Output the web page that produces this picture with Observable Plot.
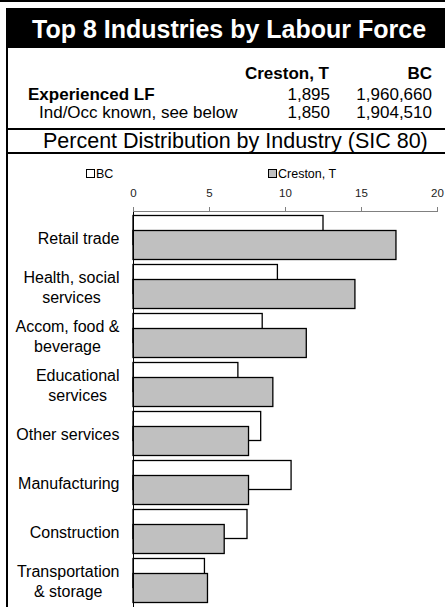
<!DOCTYPE html>
<html><head><meta charset="utf-8">
<script src="https://cdn.jsdelivr.net/npm/d3@7"></script>
<script src="https://cdn.jsdelivr.net/npm/@observablehq/plot@0.6"></script>
<style>
body{margin:0;background:#fff;font-family:"Liberation Sans",Arial,sans-serif;}
#wrap{position:relative;width:445px;height:607px;overflow:hidden;background:#fff;}
.abs{position:absolute;white-space:nowrap;line-height:1;}
.sw{display:inline-block;width:7px;height:7px;border:1px solid #000;margin-right:1px;vertical-align:0px;}
#chart{position:absolute;left:0;top:153px;}
</style></head><body>
<div id="wrap">
  <div class="abs" style="left:0;top:0;width:445px;height:2px;background:#000"></div>
  <div class="abs" style="left:6px;top:8px;width:439px;height:40px;background:#000"></div>
  <div class="abs" id="title" style="left:32px;top:16.5px;font-size:25px;font-weight:bold;color:#fff"></div>
  <div class="abs" style="left:6px;top:48px;width:2px;height:559px;background:#000"></div>
  <div class="abs" style="left:6px;top:128px;width:439px;height:2px;background:#000"></div>
  <div class="abs" style="left:6px;top:151.5px;width:439px;height:2px;background:#000"></div>
  <div class="abs" id="h1" style="right:116px;top:64.6px;font-size:17px;font-weight:bold"></div>
  <div class="abs" id="h2" style="right:13px;top:64.6px;font-size:17px;font-weight:bold"></div>
  <div class="abs" id="r1l" style="left:28px;top:85.6px;font-size:17px;font-weight:bold"></div>
  <div class="abs" id="r1a" style="right:115px;top:85.6px;font-size:17px"></div>
  <div class="abs" id="r1b" style="right:13px;top:85.6px;font-size:17px"></div>
  <div class="abs" id="r2l" style="left:39px;top:103.6px;font-size:17px"></div>
  <div class="abs" id="r2a" style="right:115px;top:103.6px;font-size:17px"></div>
  <div class="abs" id="r2b" style="right:13px;top:103.6px;font-size:17px"></div>
  <div class="abs" id="sub" style="left:43px;top:130.5px;font-size:21.5px"></div>
  <div class="abs" id="leg1" style="left:86px;top:168px;font-size:12.5px"></div>
  <div class="abs" id="leg2" style="left:268px;top:168px;font-size:12.5px"></div>
  <div id="chart"></div>
</div>
<script>
// ---- data ----
const titleText = "Top 8 Industries by Labour Force";
const subtitleText = "Percent Distribution by Industry (SIC 80)";
const columnHeaders = ["Creston, T", "BC"];
const rowLabels = ["Experienced LF", "Ind/Occ known, see below"];
const crestonCounts = ["1,895", "1,850"];
const bcCounts = ["1,960,660", "1,904,510"];
const seriesNames = ["BC", "Creston, T"];
const seriesColors = ["#ffffff", "#c0c0c0"];
const categories = ["Retail trade", "Health, social services", "Accom, food & beverage",
  "Educational services", "Other services", "Manufacturing", "Construction",
  "Transportation & storage"];
const categoryLabels = ["Retail trade", "Health, social\nservices", "Accom, food &\nbeverage",
  "Educational\nservices", "Other services", "Manufacturing", "Construction",
  "Transportation\n& storage"];
const bcValues = [12.5, 9.5, 8.5, 6.9, 8.4, 10.4, 7.5, 4.7];
const crestonValues = [17.3, 14.6, 11.4, 9.2, 7.6, 7.6, 6.0, 4.9];
const xTicks = [0, 5, 10, 15, 20];

// ---- header ----
document.getElementById("title").textContent = titleText;
document.getElementById("sub").textContent = subtitleText;
document.getElementById("h1").textContent = columnHeaders[0];
document.getElementById("h2").textContent = columnHeaders[1];
document.getElementById("r1l").textContent = rowLabels[0];
document.getElementById("r2l").textContent = rowLabels[1];
document.getElementById("r1a").textContent = crestonCounts[0];
document.getElementById("r2a").textContent = crestonCounts[1];
document.getElementById("r1b").textContent = bcCounts[0];
document.getElementById("r2b").textContent = bcCounts[1];
["leg1", "leg2"].forEach((id, i) => {
  const el = document.getElementById(id);
  const sw = document.createElement("span");
  sw.className = "sw"; sw.style.background = seriesColors[i];
  el.appendChild(sw);
  el.appendChild(document.createTextNode(seriesNames[i]));
});

// ---- chart ----
const labelFont = 16;
const ctx = document.createElement("canvas").getContext("2d");
ctx.font = `${labelFont}px "Liberation Sans", Arial, sans-serif`;
const labelWidth = s => Math.max(...s.split("\n").map(l => ctx.measureText(l).width));

const svgH = 454;
const labelMarks = categories.map((c, i) => Plot.text([c], {
  y: d => d, frameAnchor: "left", text: () => categoryLabels[i],
  textAnchor: "middle", lineAnchor: "middle", lineHeight: 1.25,
  fontSize: labelFont, fill: "#000", dx: -(14 + labelWidth(categoryLabels[i]) / 2)
}));

const chart = Plot.plot({
  width: 445, height: svgH,
  marginLeft: 133, marginRight: 8, marginTop: 58, marginBottom: 0,
  style: {fontFamily: '"Liberation Sans", Arial, sans-serif', fontSize: "11.5px", background: "transparent", overflow: "visible"},
  x: {domain: [0, 20], axis: null},
  y: {domain: categories, range: [58.6, 452.6], paddingInner: 0.41, paddingOuter: 0.2, axis: null},
  marks: [
    Plot.barX(categories, {x: (d, i) => bcValues[i], y: d => d, fill: seriesColors[0], stroke: "#000", strokeWidth: 1.3, dy: -7.5}),
    Plot.barX(categories, {x: (d, i) => crestonValues[i], y: d => d, fill: seriesColors[1], stroke: "#000", strokeWidth: 1.3, dy: 7.5}),
    Plot.ruleX([0], {stroke: "#000", strokeWidth: 1}),
    Plot.frame({anchor: "top", stroke: "#808080"}),
    Plot.axisX({anchor: "top", ticks: xTicks, tickSize: 5, tickPadding: 10, stroke: "#808080", fill: "#222"}),
    ...labelMarks
  ]
});
document.getElementById("chart").appendChild(chart);
</script>
</body></html>
